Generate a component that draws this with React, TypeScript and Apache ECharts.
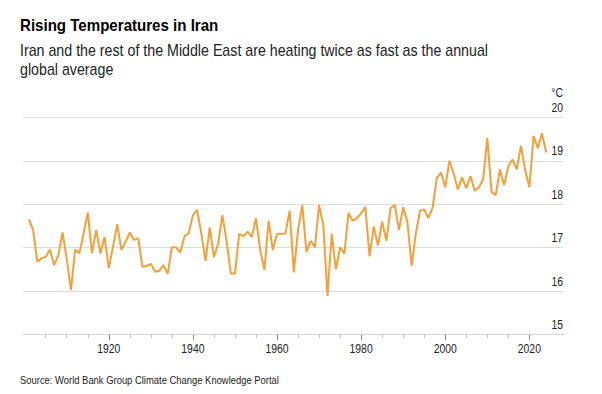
import React, { useEffect, useRef } from "react";
import * as echarts from "echarts";

const TITLE = "Rising Temperatures in Iran";
const SUBTITLE = "Iran and the rest of the Middle East are heating twice as fast as the annual\nglobal average";
const SOURCE = "Source: World Bank Group Climate Change Knowledge Portal";
const UNIT = "°C";

const FIRST_YEAR = 1901;
const temps = [
  17.65, 17.41, 16.68, 16.76, 16.79, 16.96, 16.6, 16.83, 17.35, 16.75,
  16.03, 16.96, 16.87, 17.33, 17.81, 16.87, 17.41, 16.87, 17.25, 16.53,
  17.02, 17.54, 16.95, 17.14, 17.35, 17.18, 17.22, 16.56, 16.58, 16.63,
  16.45, 16.47, 16.6, 16.4, 17.01, 17.01, 16.89, 17.27, 17.33, 17.75,
  17.87, 17.33, 16.7, 17.47, 16.78, 17.1, 17.75, 17.16, 16.41, 16.41,
  17.32, 17.26, 17.37, 17.25, 17.68, 16.95, 16.49, 17.62, 16.95, 17.32,
  17.32, 17.33, 17.85, 16.43, 17.41, 17.98, 16.9, 17.16, 17.01, 17.98,
  17.52, 15.89, 17.32, 16.5, 17.01, 16.86, 17.8, 17.62, 17.68, 17.79,
  17.94, 16.8, 17.49, 17.05, 17.6, 17.16, 17.91, 17.98, 17.41, 17.93,
  17.6, 16.58, 17.33, 17.85, 17.88, 17.68, 17.93, 18.6, 18.73, 18.39,
  19.0, 18.71, 18.34, 18.62, 18.37, 18.65, 18.31, 18.39, 18.57, 19.52,
  18.29, 18.21, 18.8, 18.44, 18.88, 19.03, 18.8, 19.34, 18.79, 18.39,
  19.57, 19.29, 19.63, 19.19,
];
const years = temps.map((_, i) => FIRST_YEAR + i);

const xMajorTicks = [1920, 1940, 1960, 1980, 2000, 2020];
const xMinorTicks = [1905, 1910, 1915, 1925, 1930, 1935, 1945, 1950, 1955, 1965, 1970, 1975, 1985, 1990, 1995, 2005, 2010, 2015];
const yTicks = [15, 16, 17, 18, 19, 20];

const X_MIN = 1899.6;
const X_MAX = 2028;
const FONT = "'Liberation Sans', Arial, sans-serif";
const NARROW = 0.84;

function txt(text: string, x: number, y: number, size: number, opts: any = {}) {
  return {
    type: "text",
    x,
    y,
    scaleX: opts.scaleX ?? NARROW,
    silent: true,
    style: {
      text,
      x: 0,
      y: 0,
      fontFamily: FONT,
      fontSize: size,
      fontWeight: opts.bold ? "bold" : "normal",
      fill: opts.color ?? "#222",
      align: opts.align ?? "left",
      textAlign: opts.align ?? "left",
      verticalAlign: opts.va ?? "middle",
      textVerticalAlign: opts.va ?? "middle",
      lineHeight: opts.lineHeight,
    },
  };
}

export default function App() {
  const ref = useRef<HTMLDivElement>(null);
  useEffect(() => {
    document.body.style.margin = "0";
    if (!ref.current) return;
    const chart = echarts.init(ref.current, undefined, { renderer: "svg" });
    const xBase = {
      type: "value" as const,
      min: X_MIN,
      max: X_MAX,
      splitLine: { show: false },
    };
    chart.setOption({
      animation: false,
      backgroundColor: "#ffffff",
      grid: { left: 23, right: 39, top: 117.3, bottom: 59.3, containLabel: false },
      xAxis: [
        {
          ...xBase,
          position: "bottom",
          axisLine: { show: true, lineStyle: { color: "#d6d6d6", width: 1 } },
          axisTick: { show: true, customValues: xMajorTicks, length: 5, lineStyle: { color: "#888" } },
          axisLabel: { show: false },
        },
        {
          ...xBase,
          position: "bottom",
          axisLine: { show: false },
          axisTick: { show: true, customValues: xMinorTicks, length: 3, lineStyle: { color: "#bbb" } },
          axisLabel: { show: false },
        },
      ],
      yAxis: {
        type: "value",
        min: 15,
        max: 20,
        interval: 1,
        position: "right",
        axisLine: { show: false },
        axisTick: { show: false },
        splitLine: { show: true, lineStyle: { color: "#dcdcdc", width: 1 } },
        axisLabel: { show: false },
      },
      series: [
        {
          type: "line",
          xAxisIndex: 0,
          data: years.map((y, i) => [y, temps[i]]),
          showSymbol: false,
          symbol: "none",
          lineStyle: { color: "#F4A03A", width: 2 },
          itemStyle: { color: "#F4A03A" },
        },
      ],
    });

    const px = (v: number) => chart.convertToPixel({ xAxisIndex: 0 }, v) as number;
    const py = (v: number) => chart.convertToPixel({ yAxisIndex: 0 }, v) as number;
    const rightX = px(X_MAX);
    const axisY = py(15);
    const topY = py(20);

    const elements: any[] = [
      txt(TITLE, 20, 25, 16.5, { bold: true, color: "#000", scaleX: 0.915 }),
      txt(SUBTITLE, 20, 40.5, 16, { va: "top", lineHeight: 19, scaleX: 0.89 }),
      txt(SOURCE, 20, 380.7, 10.6, { scaleX: 0.89 }),
      txt(UNIT, rightX, topY - 24.3, 12.5, { align: "right" }),
    ];
    xMajorTicks.forEach((yr) => {
      elements.push(txt(String(yr), px(yr), axisY + 13.6, 13, { align: "center", scaleX: 0.8 }));
    });
    yTicks.forEach((v) => {
      elements.push(txt(String(v), rightX, py(v) - 10.5, 13, { align: "right", scaleX: 0.8 }));
    });
    chart.setOption({ graphic: { elements } });

    return () => chart.dispose();
  }, []);
  return <div ref={ref} style={{ width: 602, height: 394 }} />;
}
